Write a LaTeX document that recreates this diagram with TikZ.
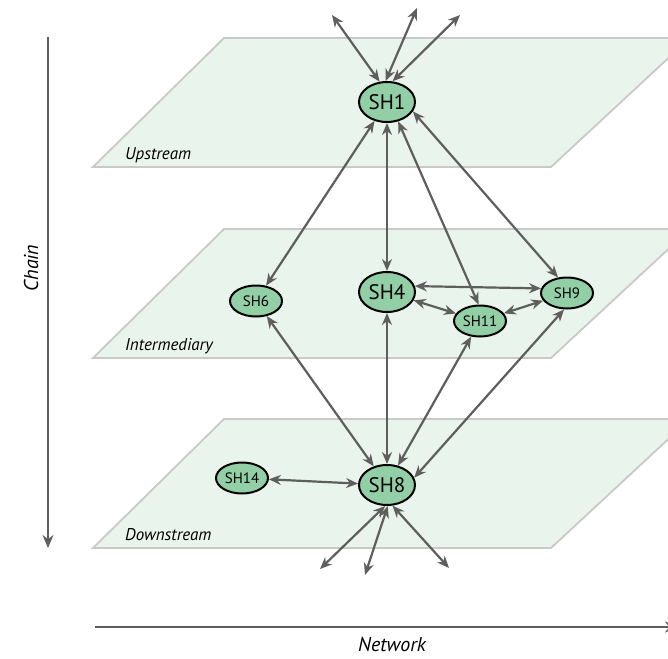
\documentclass[tikz,border=0pt]{standalone}
\usepackage{fontspec}
\setmainfont{PT Sans}
\usetikzlibrary{arrows.meta,shapes.geometric}
\definecolor{planefill}{HTML}{E9F4EC}
\definecolor{planeedge}{HTML}{C9C9C9}
\definecolor{actorfill}{HTML}{93CFA6}
\definecolor{linkgray}{HTML}{5E5E5E}
\tikzset{
  plane/.style={fill=planefill, draw=planeedge, line width=1.8pt, line join=miter},
  planelabel/.style={font=\fontsize{17}{19}\selectfont\itshape, anchor=base west, inner sep=0pt},
  bigactor/.style={ellipse, draw=black, line width=2pt, fill=actorfill, minimum width=56pt, minimum height=40pt, inner sep=0pt, font=\fontsize{21}{23}\selectfont},
  smallactor/.style={ellipse, draw=black, line width=2pt, fill=actorfill, minimum width=52pt, minimum height=31pt, inner sep=0pt, font=\fontsize{15}{17}\selectfont},
  link/.style={draw=linkgray, line width=2.2pt, {Stealth[length=12pt,width=10pt]}-{Stealth[length=12pt,width=10pt]}},
  axis/.style={draw=linkgray, line width=2.2pt, -{Stealth[length=13pt,width=11pt]}},
  axislabel/.style={font=\fontsize{20}{22}\selectfont\itshape, inner sep=0pt}
}
\begin{document}
\begin{tikzpicture}[x=1pt, y=-1pt]
\useasboundingbox (0,0) rectangle (668,658);

% three tiers of the chain
\draw[plane] (224,38) -- (690,38) -- (551,167) -- (93,167) -- cycle;
\draw[plane] (224,229) -- (690,229) -- (551,358) -- (93,358) -- cycle;
\draw[plane] (224,419) -- (690,419) -- (551,548) -- (93,548) -- cycle;
\node[planelabel] (up) at (125,159) {Upstream};
\node[planelabel] (mid) at (125,350) {Intermediary};
\node[planelabel] (down) at (125,540) {Downstream};

% axes
\coordinate (chainA) at (48,37);
\coordinate (chainB) at (48,548);
\draw[axis] (chainA) -- (chainB);
\node[axislabel, rotate=90] (chainlbl) at (31,268) {Chain};
\coordinate (netA) at (95,627);
\coordinate (netB) at (678,627);
\draw[axis] (netA) -- (netB);
\node[axislabel, anchor=base] (netlbl) at (392,651) {Network};

% stakeholders
\node[bigactor] (SH1) at (387,102) {SH1};
\node[bigactor] (SH4) at (387,292) {SH4};
\node[bigactor] (SH8) at (387,485) {SH8};
\node[smallactor] (SH6) at (256,301) {SH6};
\node[smallactor] (SH9) at (567,293) {SH9};
\node[smallactor] (SH11) at (480,321) {SH11};
\node[smallactor] (SH14) at (242,478) {SH14};

% links leaving the upstream tier
\coordinate (o1) at (332,15);
\coordinate (o2) at (417,8);
\coordinate (o3) at (460,15);
\draw[link] (SH1.110) -- (o1);
\draw[link] (SH1.94) -- (o2);
\draw[link] (SH1.75) -- (o3);

% links leaving the downstream tier
\coordinate (d1) at (320,569);
\coordinate (d2) at (365,575);
\coordinate (d3) at (449,568);
\draw[link] (SH8.-95) -- (d1);
\draw[link] (SH8.-88) -- (d2);
\draw[link] (SH8.-75) -- (d3);

% links between stakeholders
\draw[link] (SH1) -- (SH6);
\draw[link] (SH1) -- (SH4);
\draw[link] (SH1.-60) -- (SH11.95);
\draw[link] (SH1.-20) -- (SH9.120);
\draw[link] (SH4.12) -- (SH9.170);
\draw[link] (SH4) -- (SH11);
\draw[link] (SH11) -- (SH9);
\draw[link] (SH6) -- (SH8);
\draw[link] (SH4) -- (SH8);
\draw[link] (SH11) -- (SH8);
\draw[link] (SH9.-100) -- (SH8.15);
\draw[link] (SH14) -- (SH8);
\end{tikzpicture}
\end{document}
